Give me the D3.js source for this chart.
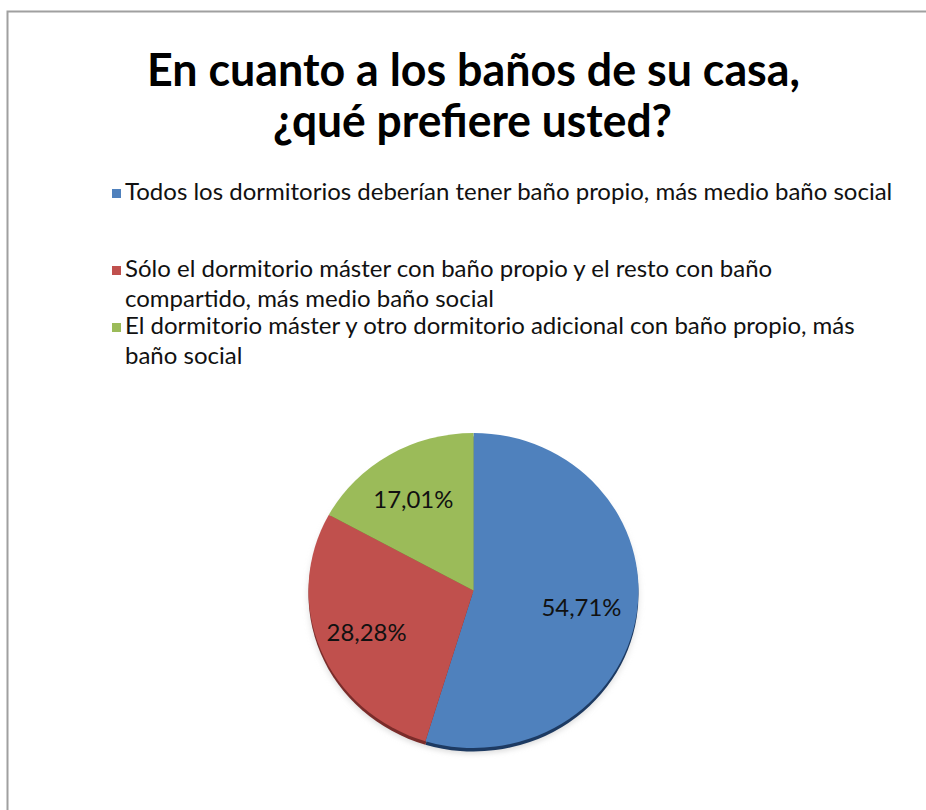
<!DOCTYPE html>
<html>
<head>
<meta charset="utf-8">
<script src="https://cdn.jsdelivr.net/npm/d3@7"></script>
<style>
  html, body { margin: 0; padding: 0; background: #fff; overflow: hidden; }
  svg { display: block; }
</style>
</head>
<body>
<svg id="chart" width="926" height="810"></svg>
<script>
// Survey answers: preferred bathroom layout
const titleLines = ["En cuanto a los baños de su casa,", "¿qué prefiere usted?"];
const categories = [
  "Todos los dormitorios deberían tener baño propio, más medio baño social",
  "Sólo el dormitorio máster con baño propio y el resto con baño compartido, más medio baño social",
  "El dormitorio máster y otro dormitorio adicional con baño propio, más baño social"
];
// legend text as it wraps in the legend box
const legendLines = [
  ["Todos los dormitorios deberían tener baño propio, más medio baño social"],
  ["Sólo el dormitorio máster con baño propio y el resto con baño", "compartido, más medio baño social"],
  ["El dormitorio máster y otro dormitorio adicional con baño propio, más", "baño social"]
];
const values = [54.71, 28.28, 17.01];
const colors = ["#4F81BD", "#C0504D", "#9BBB59"];
const rimColors = ["#1d3a62", "#7a2c2a", "#5d7430"];

const svg = d3.select("#chart");
const W = 926, H = 810;

// chart frame (its right and bottom edges run past the page)
svg.append("path")
  .attr("d", `M7.5,${H + 5}V11.5H${W + 5}`)
  .attr("fill", "none")
  .attr("stroke", "#a0a0a0").attr("stroke-width", 2);

// title
const titleLayout = [
  { y: 86, cx: 473.5, w: 653 },
  { y: 137, cx: 472.5, w: 399 }
];
svg.append("g").selectAll("text")
  .data(titleLines)
  .join("text")
  .attr("x", (d, i) => titleLayout[i].cx)
  .attr("y", (d, i) => titleLayout[i].y)
  .attr("text-anchor", "middle")
  .attr("font-family", "Lato, 'Open Sans', sans-serif")
  .attr("font-weight", "bold")
  .attr("font-size", 46)
  .attr("textLength", (d, i) => titleLayout[i].w)
  .attr("lengthAdjust", "spacingAndGlyphs")
  .attr("fill", "#000")
  .text(d => d);

// legend
const legendFirstBaseline = [200, 277, 334];
const lineStep = 30;
const legend = svg.append("g").attr("class", "legend");
const entries = legend.selectAll("g")
  .data(categories)
  .join("g");
entries.append("rect")
  .attr("x", 112)
  .attr("y", (d, i) => legendFirstBaseline[i] - 11)
  .attr("width", 9).attr("height", 9)
  .attr("fill", (d, i) => colors[i]);
entries.each(function (d, i) {
  d3.select(this).selectAll("text")
    .data(legendLines[i])
    .join("text")
    .attr("x", 125)
    .attr("y", (t, j) => legendFirstBaseline[i] + j * lineStep)
    .attr("font-family", "Lato, 'Open Sans', sans-serif")
    .attr("font-size", 24)
    .attr("fill", "#111")
    .text(t => t);
});

// pie
const cx = 473.5, cy = 590.5, r = 165, squash = 157.5 / 165;
const pie = d3.pie().sort(null).value(d => d);
const arcs = pie(values);
const arc = d3.arc().innerRadius(0).outerRadius(r);
const labelArc = d3.arc().innerRadius(r * 0.68).outerRadius(r * 0.68);

const defs = svg.append("defs");
defs.append("filter").attr("id", "soft")
  .attr("x", "-20%").attr("y", "-20%").attr("width", "140%").attr("height", "140%")
  .append("feGaussianBlur").attr("stdDeviation", 3);

// soft drop shadow under the pie
svg.append("g")
  .attr("transform", `translate(${cx},${cy + 6}) scale(1,${squash})`)
  .attr("filter", "url(#soft)")
  .selectAll("path")
  .data(arcs)
  .join("path")
  .attr("d", arc)
  .attr("fill", "#c8c8c8")
  .attr("opacity", 0.6);

// darker rim giving the pie a little depth
svg.append("g")
  .attr("transform", `translate(${cx},${cy + 3.5}) scale(1,${squash})`)
  .selectAll("path")
  .data(arcs)
  .join("path")
  .attr("d", arc)
  .attr("fill", (d, i) => rimColors[i]);

svg.append("g")
  .attr("transform", `translate(${cx},${cy}) scale(1,${squash})`)
  .selectAll("path")
  .data(arcs)
  .join("path")
  .attr("d", arc)
  .attr("fill", (d, i) => colors[i]);

// percentage labels
const fmt = v => v.toFixed(2).replace(".", ",") + "%";
svg.append("g")
  .selectAll("text")
  .data(arcs)
  .join("text")
  .attr("x", d => cx + labelArc.centroid(d)[0] - 3)
  .attr("y", d => cy + labelArc.centroid(d)[1] * squash + 1)
  .attr("text-anchor", "middle")
  .attr("dominant-baseline", "central")
  .attr("font-family", "Lato, 'Open Sans', sans-serif")
  .attr("font-size", 23.5)
  .attr("textLength", 80)
  .attr("lengthAdjust", "spacingAndGlyphs")
  .attr("fill", "#111")
  .text(d => fmt(d.value));
</script>
</body>
</html>
